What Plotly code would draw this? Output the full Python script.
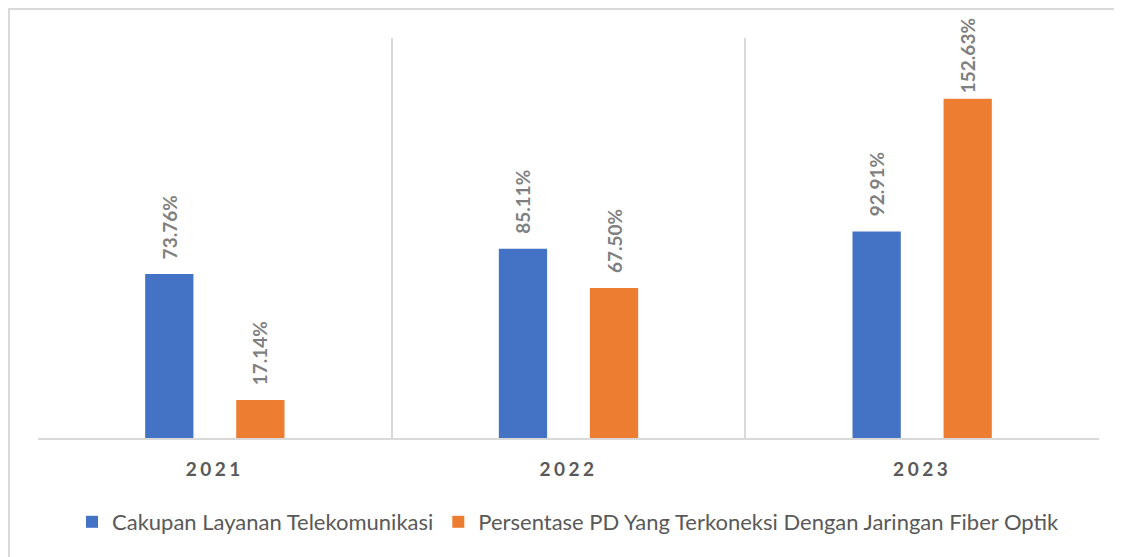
import plotly.graph_objects as go

years = ["2021", "2022", "2023"]
series_names = ["Cakupan Layanan Telekomunikasi",
                "Persentase PD Yang Terkoneksi Dengan Jaringan Fiber Optik"]
cakupan = [73.76, 85.11, 92.91]
fiber = [17.14, 67.50, 152.63]
colors = ["#4472C4", "#ED7D31"]

# the page body has an 8px margin, so the figure is drawn 8px smaller
W, H = 1114, 549
ML, MR, MT, MB = 30, 23, 30, 119
BARGAP = 0.485
YMAX = 180
FONT = "Lato, 'Open Sans', sans-serif"

fig = go.Figure()
for name, vals, col in zip(series_names, [cakupan, fiber], colors):
    fig.add_trace(go.Bar(x=years, y=vals, name=name, marker_color=col,
                         marker_line_width=0))

# data labels
plot_w = W - ML - MR
plot_h = H - MT - MB
px_per_unit = plot_h / YMAX
slot_px = (1 - BARGAP) / 2 * plot_w / len(years)
LABEL_LEN = {6: 66, 7: 74}
for i, vals in enumerate([cakupan, fiber]):
    shift = (i - 0.5) * slot_px
    for k, v in enumerate(vals):
        txt = f"{v:.2f}%"
        room = (YMAX - v) * px_per_unit + MT - LABEL_LEN.get(len(txt), 70) - 13
        fig.add_annotation(x=k, y=v, text=txt, showarrow=False,
                           textangle=-90, xshift=shift, yshift=min(13, room),
                           yanchor="bottom", xanchor="center",
                           font=dict(family=FONT, size=19, color="#7f7f7f",
                                     weight="bold"))

# outer frame
fig.add_shape(type="rect", xref="paper", yref="paper",
              x0=(1 - ML) / plot_w, x1=(W + 10 - ML) / plot_w,
              y0=-(MB + 10) / plot_h, y1=1 + (MT - 1) / plot_h,
              line=dict(color="#d9d9d9", width=2), layer="below")

fig.update_layout(
    width=W, height=H,
    margin=dict(l=ML, r=MR, t=MT, b=MB),
    paper_bgcolor="white", plot_bgcolor="white",
    barmode="group", bargap=BARGAP, bargroupgap=0.47,
    showlegend=True,
    legend=dict(orientation="h", x=0.5, xanchor="center", y=-0.21,
                yanchor="middle", font=dict(family=FONT, size=22, color="#595959"),
                itemclick=False),
    xaxis=dict(type="category", range=[-0.5, len(years) - 0.5], autorange=False,
               showgrid=True, gridcolor="#d9d9d9", gridwidth=1.5,
               tickson="boundaries", ticks="", showline=True, linecolor="#d9d9d9",
               linewidth=1.5, ticklabelstandoff=13,
               tickfont=dict(family=FONT, size=19, color="#595959", weight="bold")),
    yaxis=dict(range=[0, YMAX], autorange=False, showgrid=False, showticklabels=False,
               zeroline=False, showline=False, ticks=""),
)

fig.write_html("out.html",
               post_script="document.querySelectorAll('.xtick text').forEach(function(t){t.style.letterSpacing='3.5px';});")
